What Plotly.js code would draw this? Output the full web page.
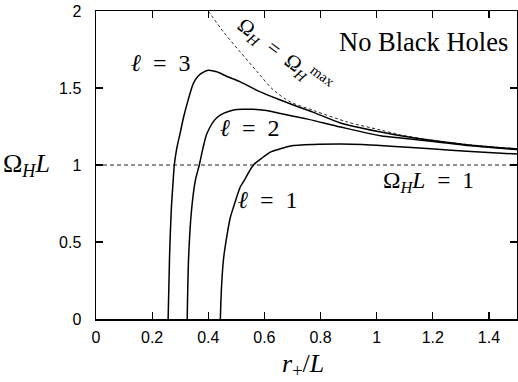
<!DOCTYPE html>
<html>
<head>
<meta charset="utf-8">
<script src="https://cdn.plot.ly/plotly-3.0.1.min.js"></script>
<style>html,body{margin:0;padding:0;background:#fff;}#plot{width:518px;height:382px;}</style>
</head>
<body>
<div id="plot"></div>
<script>
// Omega_H^max (dashed boundary)
const maxX = [0.400, 0.454, 0.514, 0.575, 0.632, 0.693, 0.775, 0.896, 1.014, 1.086, 1.193, 1.336, 1.500];
const maxY = [2.000, 1.864, 1.734, 1.604, 1.487, 1.409, 1.354, 1.279, 1.227, 1.195, 1.162, 1.130, 1.105];

// l = 3
const l3X = [0.257, 0.262, 0.268, 0.275, 0.279, 0.287, 0.300, 0.312, 0.325, 0.347, 0.365, 0.383, 0.400, 0.430, 0.467, 0.514, 0.579, 0.657, 0.729, 0.775, 0.871, 1.014, 1.086, 1.193, 1.336, 1.500];
const l3Y = [0.000, 0.400, 0.700, 0.900, 1.000, 1.100, 1.208, 1.310, 1.400, 1.530, 1.580, 1.603, 1.615, 1.605, 1.575, 1.540, 1.480, 1.422, 1.372, 1.342, 1.273, 1.214, 1.190, 1.160, 1.128, 1.104];

// l = 2
const l2X = [0.325, 0.330, 0.340, 0.354, 0.368, 0.380, 0.396, 0.432, 0.490, 0.530, 0.560, 0.600, 0.657, 0.754, 0.871, 1.014, 1.086, 1.193, 1.336, 1.500];
const l2Y = [0.000, 0.400, 0.700, 0.900, 1.000, 1.100, 1.208, 1.310, 1.357, 1.362, 1.362, 1.355, 1.335, 1.298, 1.247, 1.190, 1.175, 1.155, 1.125, 1.100];

// l = 1
const l1X = [0.443, 0.447, 0.454, 0.468, 0.479, 0.490, 0.514, 0.525, 0.561, 0.596, 0.621, 0.657, 0.693, 0.775, 0.871, 0.950, 1.050, 1.193, 1.336, 1.500];
const l1Y = [0.000, 0.200, 0.383, 0.558, 0.662, 0.727, 0.857, 0.890, 1.000, 1.052, 1.084, 1.105, 1.123, 1.133, 1.136, 1.133, 1.122, 1.105, 1.088, 1.071];

// Omega_H L = 1 reference line
const refX = [0, 1.5];
const refY = [1, 1];

const xTickVals = [0, 0.2, 0.4, 0.6, 0.8, 1, 1.2, 1.4];
const xTickText = ['0', '0.2', '0.4', '0.6', '0.8', '1', '1.2', '1.4'];
const yTickVals = [0, 0.5, 1, 1.5, 2];
const yTickText = ['0', '0.5', '1', '1.5', '2'];

const serif = '"Liberation Serif"';
const sans = '"Liberation Sans"';
const SP = '\u2002';

const traces = [
  {x: refX, y: refY, mode: 'lines', line: {color: '#222', width: 1, dash: '4px,3px'}},
  {x: maxX, y: maxY, mode: 'lines', line: {color: '#111', width: 0.9, dash: '3px,2.5px', shape: 'spline', smoothing: 0.8}},
  {x: l3X, y: l3Y, mode: 'lines', line: {color: '#000', width: 1.5, shape: 'spline', smoothing: 0.8}},
  {x: l2X, y: l2Y, mode: 'lines', line: {color: '#000', width: 1.5, shape: 'spline', smoothing: 0.8}},
  {x: l1X, y: l1Y, mode: 'lines', line: {color: '#000', width: 1.5, shape: 'spline', smoothing: 0.8}}
];

const axisCommon = {
  showline: true, linecolor: '#000', linewidth: 1.5, mirror: 'allticks',
  ticks: 'inside', ticklen: 7, tickwidth: 1.2, tickcolor: '#000',
  showgrid: false, zeroline: false,
  tickfont: {family: sans, size: 16, color: '#000'}
};

function ann(x, y, ref, text, size, extra) {
  return Object.assign({x: x, y: y, xref: ref === 'paper' ? 'paper' : 'x', yref: ref === 'paper' ? 'paper' : 'y',
    text: text, showarrow: false, xanchor: 'center', yanchor: 'middle',
    font: {family: serif, size: size, color: '#000'}}, extra || {});
}

const layout = {
  width: 518, height: 382,
  margin: {l: 96, r: 1, t: 11, b: 63},
  paper_bgcolor: '#fff', plot_bgcolor: '#fff',
  showlegend: false,
  xaxis: Object.assign({}, axisCommon, {range: [0, 1.5], tickmode: 'array', tickvals: xTickVals, ticktext: xTickText, ticklabelstandoff: 3}),
  yaxis: Object.assign({}, axisCommon, {range: [0, 2], tickmode: 'array', tickvals: yTickVals, ticktext: yTickText, ticklabelstandoff: 10}),
  annotations: [
    ann(1.168, 1.80, 'data', 'No Black Holes', 26.5),
    ann(0.233, 1.662, 'data', '<i>ℓ</i>' + SP + '=' + SP + '3', 24),
    ann(0.549, 1.24, 'data', '<i>ℓ</i>' + SP + '=' + SP + '2', 24),
    ann(0.613, 0.773, 'data', '<i>ℓ</i>' + SP + '=' + SP + '1', 24),
    ann(1.186, 0.89, 'data', 'Ω<sub><i>H</i></sub><i>L</i>' + SP + '=' + SP + '1', 23.5),
    ann(0.672, 1.71, 'data', 'Ω<sub><i>H</i></sub>' + SP + '=' + SP + 'Ω<sub><i>H</i></sub><sup>max</sup>', 21, {textangle: 37}),
    ann(0.492, -0.150, 'paper', '<i>r</i><sub>+</sub>/<i>L</i>', 26),
    ann(-0.166, 0.5, 'paper', 'Ω<sub><i>H</i></sub><i>L</i>', 26)
  ]
};

Plotly.newPlot('plot', traces, layout, {staticPlot: true, displayModeBar: false});
</script>
</body>
</html>
